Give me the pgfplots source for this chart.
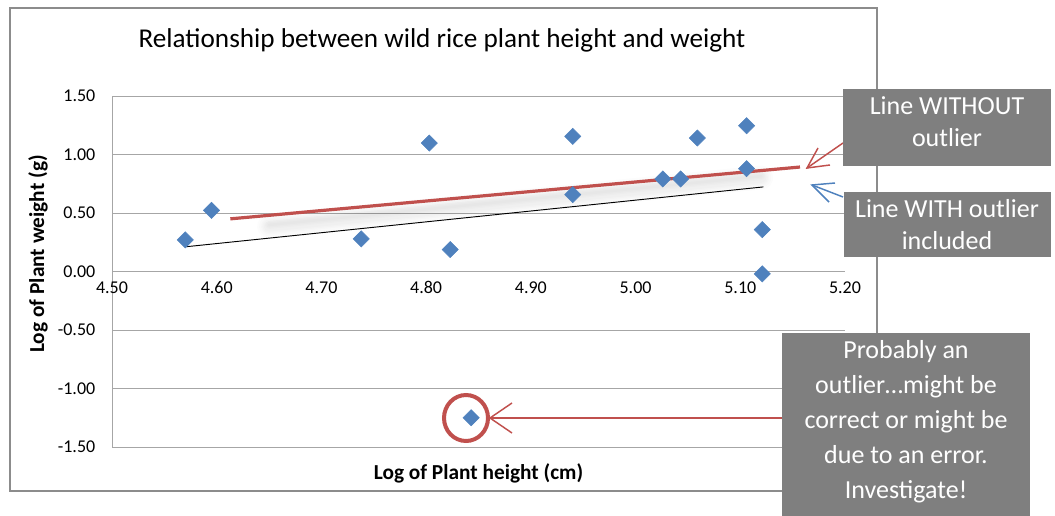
\documentclass[border=0pt]{standalone}
\usepackage{pgfplots}
\pgfplotsset{compat=1.18}
\usepackage{fontspec}
\setmainfont{Carlito}
\definecolor{xblue}{HTML}{4F81BD}
\definecolor{xred}{HTML}{C0504D}
\definecolor{boxgray}{HTML}{7F7F7F}
\definecolor{gridgray}{HTML}{A6A6A6}
\definecolor{bordergray}{HTML}{8C8C8C}

\begin{document}
\begin{tikzpicture}
\begin{scope}[x=0.75pt,y=-0.75pt]
\useasboundingbox (0,0) rectangle (1055,516);
\coordinate (SW) at (112,447);
\draw[bordergray, line width=1.1pt] (10,8) rectangle (877,491);
\node[font=\fontsize{20.4}{24}\selectfont] at (442,40) {Relationship between wild rice plant height and weight};
\end{scope}

\begin{axis}[at={(SW)}, anchor=south west, scale only axis,
  width=549.75pt, height=263.25pt,
  xmin=4.5, xmax=5.2, ymin=-1.5, ymax=1.5,
  axis x line*=middle, axis y line*=left,
  hide obscured x ticks=false, hide obscured y ticks=false,
  xtick={4.5,4.6,4.7,4.8,4.9,5.0,5.1,5.2},
  ytick={-1.5,-1,-0.5,0,0.5,1,1.5},
  ymajorgrids, grid style={gridgray, line width=0.75pt},
  axis line style={gridgray, line width=0.75pt},
  tick style={draw=none},
  ticklabel style={font=\fontsize{13.5}{16}\selectfont},
  yticklabel style={xshift=-9pt},
  xticklabel style={yshift=-4pt},
  /pgf/number format/.cd, fixed, fixed zerofill, precision=2, assume math mode=true, /pgfplots/.cd,
  xlabel={\textbf{Log of Plant height (cm)}},
  ylabel={\textbf{Log of Plant weight (g)}},
  xlabel style={at={(axis description cs:0.5,-0.074)}, anchor=center, font=\fontsize{16}{19}\selectfont},
  ylabel style={at={(axis description cs:-0.101,0.55)}, anchor=center, font=\fontsize{16}{19}\selectfont},
  clip=false,
]
% soft shadow under the red line
\addplot[draw=black, opacity=0.012, line width=18pt, line cap=round, yshift=-6pt, forget plot] coordinates {(4.65,0.455) (5.12,0.872)};
\addplot[draw=black, opacity=0.012, line width=15pt, line cap=round, yshift=-6pt, forget plot] coordinates {(4.65,0.455) (5.12,0.872)};
\addplot[draw=black, opacity=0.012, line width=12pt, line cap=round, yshift=-6pt, forget plot] coordinates {(4.65,0.455) (5.12,0.872)};
\addplot[draw=black, opacity=0.012, line width=10pt, line cap=round, yshift=-6pt, forget plot] coordinates {(4.65,0.455) (5.12,0.872)};
\addplot[draw=black, opacity=0.012, line width=8pt, line cap=round, yshift=-6pt, forget plot] coordinates {(4.65,0.455) (5.12,0.872)};
\addplot[draw=black, opacity=0.012, line width=6pt, line cap=round, yshift=-5pt, forget plot] coordinates {(4.65,0.455) (5.12,0.872)};
\addplot[draw=black, opacity=0.012, line width=4pt, line cap=round, yshift=-5pt, forget plot] coordinates {(4.65,0.455) (5.12,0.872)};
\addplot[draw=black, opacity=0.012, line width=2pt, line cap=round, yshift=-5pt, forget plot] coordinates {(4.65,0.455) (5.12,0.872)};
% trend line with outlier
\addplot[black, line width=0.7pt] coordinates {(4.570,0.211) (5.122,0.723)};
% trend line without outlier
\addplot[xred, line width=2.4pt] coordinates {(4.613,0.450) (5.157,0.893)};
% data
\addplot[only marks, mark=square*, mark size=4.3pt, mark options={rotate=45, fill=xblue, draw=xblue}] coordinates {
(4.570,0.270) (4.595,0.523) (4.738,0.279) (4.803,1.098) (4.823,0.188)
(4.843,-1.250) (4.940,1.155) (4.940,0.657) (5.026,0.791) (5.043,0.791)
(5.059,1.141) (5.106,1.246) (5.106,0.879) (5.121,0.358) (5.121,-0.020)
};
\end{axis}

\begin{scope}[x=0.75pt,y=-0.75pt]
% circle around the outlier
\draw[xred, line width=3pt] (466,418) ellipse (16.5pt and 17.25pt);
% arrows
\draw[xred, line width=1.1pt] (782,418) -- (490,418);
\draw[xred, line width=1.1pt] (512,403) -- (490,418) -- (512,433);
\draw[xred, line width=1.1pt] (843,143) -- (807,168);
\draw[xred, line width=1.1pt] (818,148) -- (807,168) -- (830,165);
\draw[xblue, line width=1.1pt] (843,197) -- (812,185);
\draw[xblue, line width=1.1pt] (835,183) -- (812,185) -- (829,202);
% callout boxes
\fill[boxgray] (843,89) rectangle (1051,166);
\node[text=white, align=center, font=\fontsize{19.5}{24}\selectfont] at (947,122) {Line WITHOUT\\outlier};
\fill[boxgray] (844,192) rectangle (1051,257);
\node[text=white, align=center, font=\fontsize{19.5}{24}\selectfont] at (947,225) {Line WITH outlier\\included};
\fill[boxgray] (782,333) rectangle (1030,516);
\node[text=white, align=center, font=\fontsize{19.5}{26.25}\selectfont] at (906,422) {Probably an\\outlier…might be\\correct or might be\\due to an error.\\Investigate!};
\end{scope}
\end{tikzpicture}
\end{document}
